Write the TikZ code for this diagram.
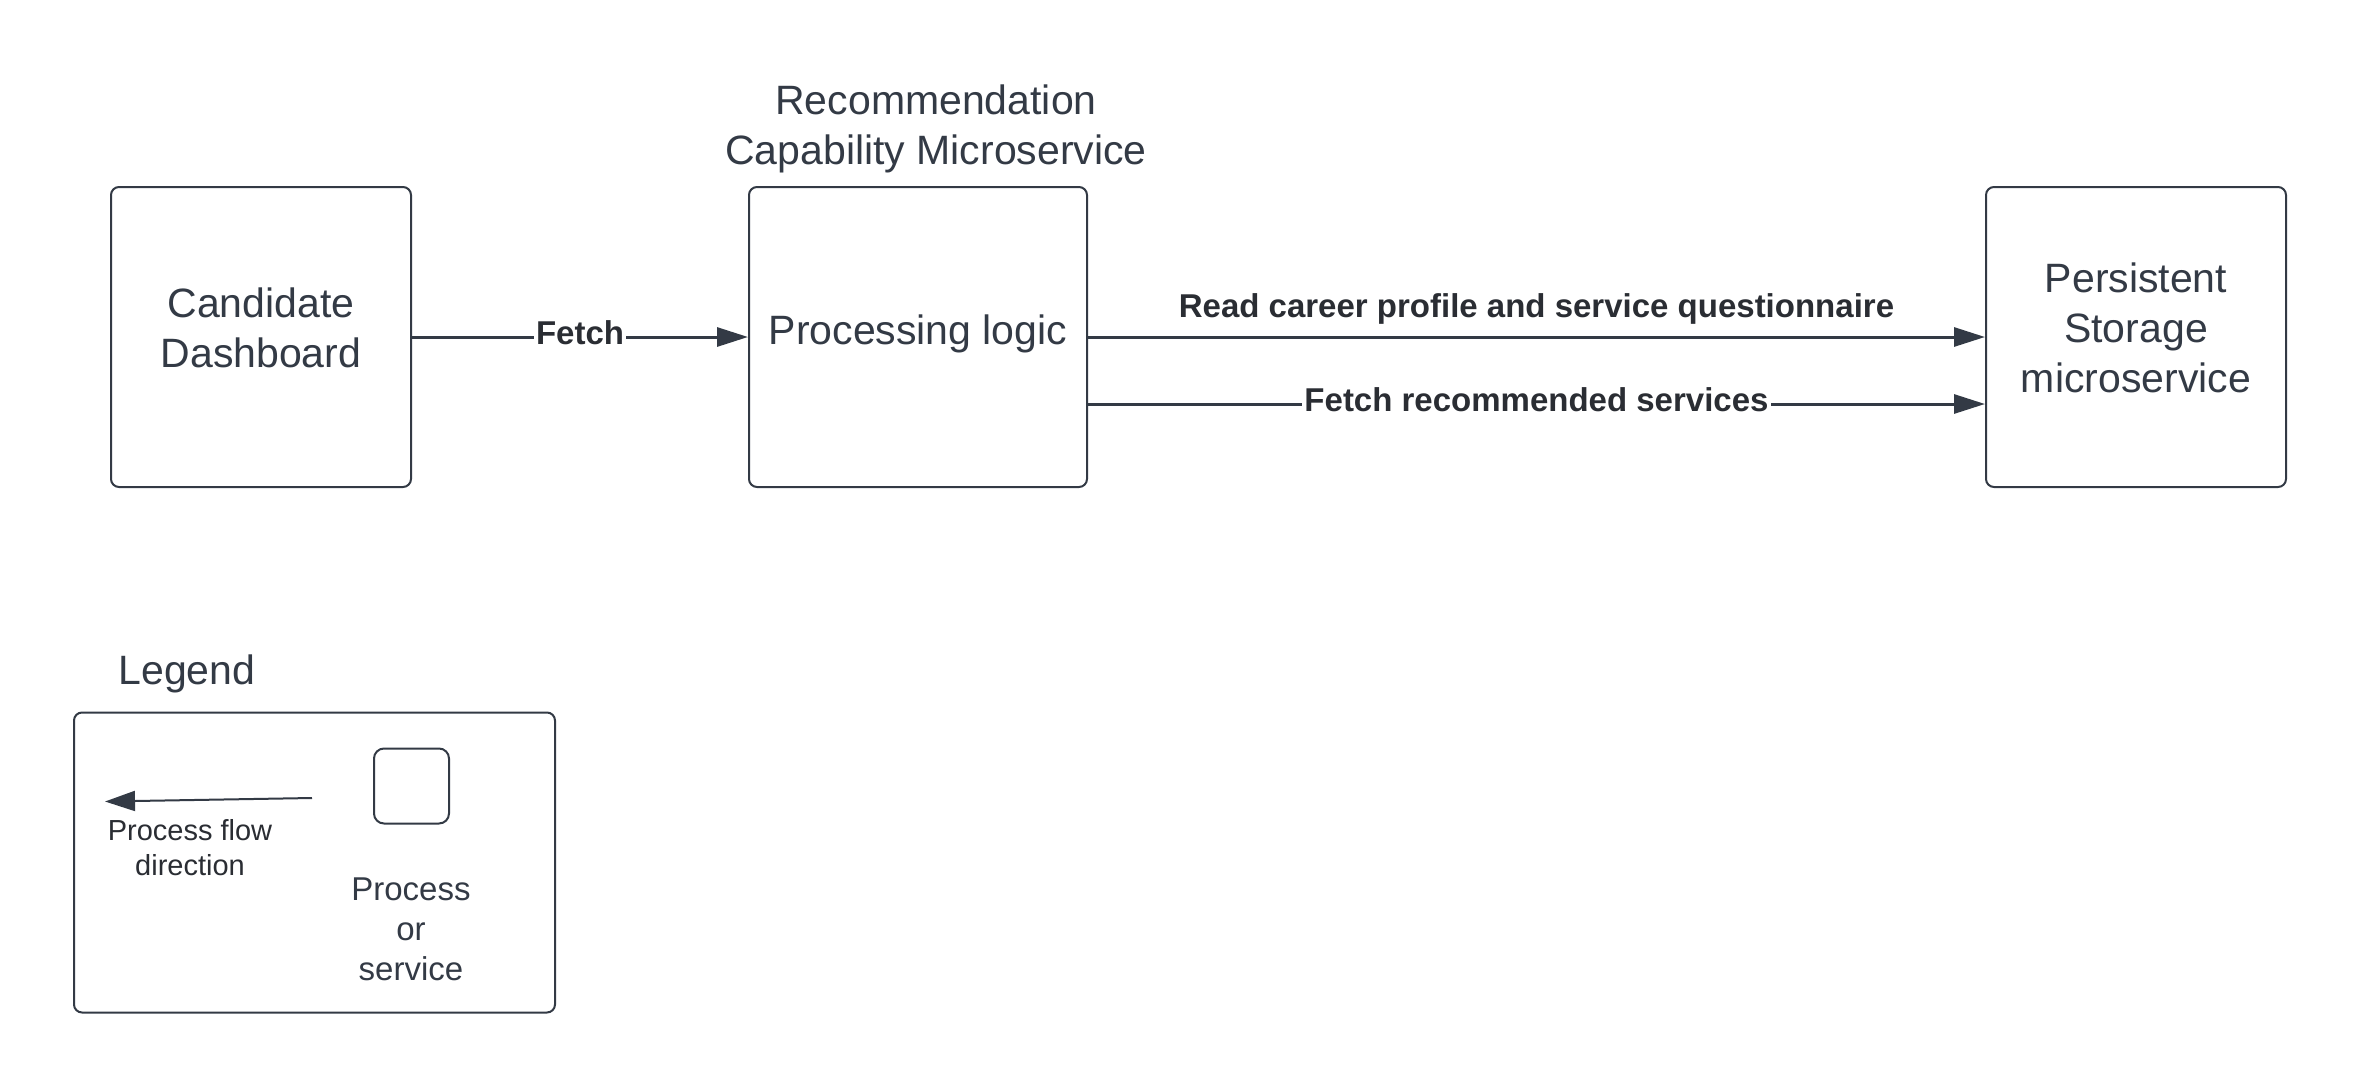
\documentclass[tikz,border=0pt]{standalone}
\usepackage{fontspec}
\setmainfont{Liberation Sans}
\usetikzlibrary{arrows.meta}
\definecolor{ink}{HTML}{333A45}
\definecolor{labelink}{HTML}{2A2D33}
\tikzset{
  box/.style={draw=ink, line width=1pt, rounded corners=4pt, align=center,
    text=ink, font=\fontsize{20.5}{25}\selectfont},
  heading/.style={align=center, text=ink, font=\fontsize{20.5}{25}\selectfont},
  flow/.style={draw=ink, line width=1.5pt, -{Triangle[length=15.5pt,width=9.5pt]}},
  flowlabel/.style={fill=white, inner sep=1pt, text=labelink, yshift=2pt,
    font=\fontsize{16.5}{20}\selectfont\bfseries},
  note/.style={align=center, text=ink, font=\fontsize{16.5}{20}\selectfont},
  smallnote/.style={align=center, text=labelink, font=\fontsize{14.5}{17.5}\selectfont},
  legendflow/.style={draw=ink, line width=1pt, -{Triangle[length=15pt,width=10pt]}},
}
\begin{document}
\begin{tikzpicture}[x=0.5pt, y=-0.5pt]
  \useasboundingbox (0,0) rectangle (2363,1088);
  \draw
    (261,337) node[box, minimum width=150pt, minimum height=150pt,
      label={[heading, yshift=4.5pt]center:{Candidate\\Dashboard}}] (dash) {}
    (918,337) node[box, minimum width=169pt, minimum height=150pt,
      label={[heading, yshift=1.5pt]center:{Processing logic}}] (proc) {}
    (2136,337) node[box, minimum width=150pt, minimum height=150pt,
      label={[heading, yshift=4.5pt]center:{Persistent\\Storage\\microservice}}] (store) {}
    (936,128.5) node[heading] (capability) {Recommendation\\Capability Microservice};
  \begin{scope}[flow]
    \draw (dash) to node[flowlabel] {Fetch} (proc);
    \draw (proc) to node[flowlabel, fill=none, above=2.5pt] {Read career profile and service questionnaire} (store);
    \draw ([yshift=-33.5pt]proc.east) to node[flowlabel] {Fetch recommended services} ([yshift=-33.5pt]store.west);
  \end{scope}
  % legend
  \node[heading] (legend) at (187,673.5) {Legend};
  \node[box, minimum width=240.5pt, minimum height=150pt] (legendbox) at (314.5,862.5) {};
  \node[box, minimum size=37.5pt, rounded corners=5pt] (procsym) at (411.5,786) {};
  \node[note] (procnote) at (411,929) {Process\\or\\service};
  \node[smallnote] (flownote) at (190,847.5) {Process flow\\direction};
  \coordinate (flowtail) at (312,798);
  \coordinate (flowtip) at (105,801.5);
  \draw[legendflow] (flowtail) -- (flowtip);
\end{tikzpicture}
\end{document}
